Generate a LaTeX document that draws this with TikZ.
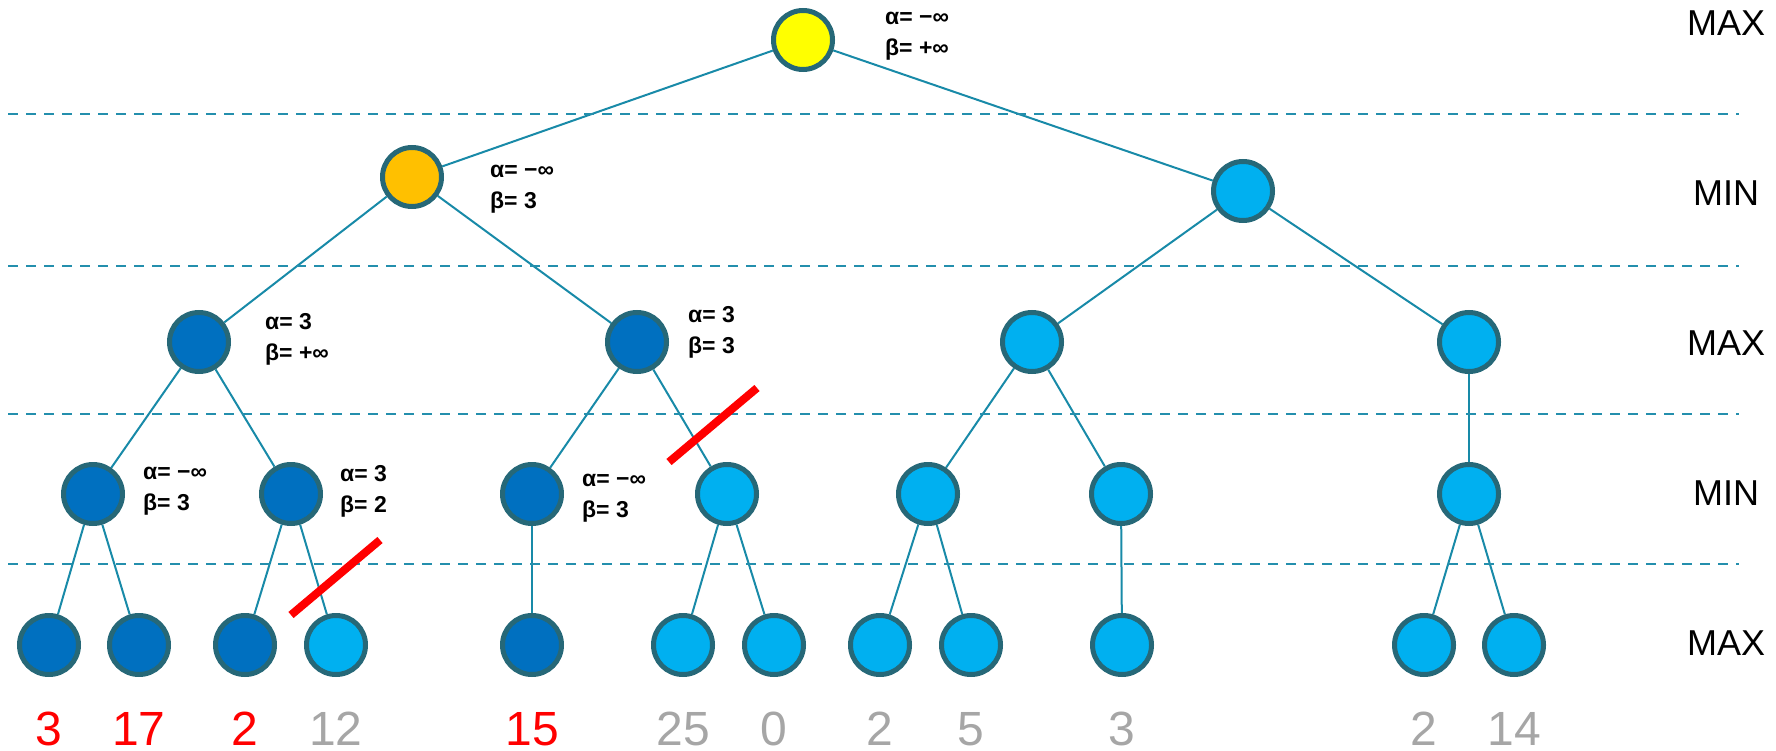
\documentclass[tikz,border=0pt]{standalone}
\usepackage{fontspec}
\setmainfont{Liberation Sans}
\definecolor{edgec}{RGB}{24,138,168}
\definecolor{dashc}{RGB}{36,143,173}
\definecolor{borderc}{RGB}{38,104,120}
\definecolor{yel}{RGB}{255,255,0}
\definecolor{org}{RGB}{255,192,0}
\definecolor{dkb}{RGB}{0,112,192}
\definecolor{ltb}{RGB}{0,176,240}
\definecolor{grayv}{RGB}{166,166,166}
\pgfdeclarelayer{bg}
\pgfsetlayers{bg,main}
\tikzset{
  tnode/.style={circle,draw=borderc,line width=5pt,minimum size=59pt,inner sep=0pt},
  ynode/.style={tnode,fill=yel},
  onode/.style={tnode,fill=org},
  dnode/.style={tnode,fill=dkb},
  lnode/.style={tnode,fill=ltb},
  tedge/.style={draw=edgec,line width=2pt},
  sep/.style={draw=dashc,line width=2.5pt,dash pattern=on 10pt off 8pt},
  cut/.style={draw=red,line width=8pt},
  ablabel/.style={anchor=west,inner sep=0pt,align=left,font=\bfseries\fontsize{23}{31}\selectfont},
  lvl/.style={inner sep=0pt,font=\fontsize{36}{40}\selectfont},
  val/.style={inner sep=0pt,font=\fontsize{48}{50}\selectfont},
}
\begin{document}
\begin{tikzpicture}[x=1pt,y=-1pt]
\useasboundingbox (0,0) rectangle (1776,751);
% separators
\foreach \yy/\nm in {114/s1,266/s2,414/s3,564/s4}{
  \coordinate (\nm a) at (8,\yy);
  \coordinate (\nm b) at (1739,\yy);
  \draw[sep] (\nm a) -- (\nm b);
}
% nodes
\node[ynode] (r) at (803,40) {};
\node[onode] (a) at (412,177) {};
\node[lnode] (b) at (1243,191) {};
\node[dnode] (c1) at (199,342) {};
\node[dnode] (c2) at (637,342) {};
\node[lnode] (c3) at (1032,342) {};
\node[lnode] (c4) at (1469,342) {};
\node[dnode] (d1) at (93,494) {};
\node[dnode] (d2) at (291,494) {};
\node[dnode] (d3) at (532,494) {};
\node[lnode] (d4) at (727,494) {};
\node[lnode] (d5) at (928,494) {};
\node[lnode] (d6) at (1121,494) {};
\node[lnode] (d7) at (1469,494) {};
\node[dnode] (e1) at (49,645) {};
\node[dnode] (e2) at (139,645) {};
\node[dnode] (e3) at (245,645) {};
\node[lnode] (e4) at (336,645) {};
\node[dnode] (e5) at (532,645) {};
\node[lnode] (e6) at (683,645) {};
\node[lnode] (e7) at (774,645) {};
\node[lnode] (e8) at (880,645) {};
\node[lnode] (e9) at (971,645) {};
\node[lnode] (e10) at (1122,645) {};
\node[lnode] (e11) at (1424,645) {};
\node[lnode] (e12) at (1514,645) {};
% edges
\begin{pgfonlayer}{bg}
\foreach \p/\c in {r/a,r/b,a/c1,a/c2,b/c3,b/c4,c1/d1,c1/d2,c2/d3,c2/d4,c3/d5,c3/d6,c4/d7,
  d1/e1,d1/e2,d2/e3,d2/e4,d3/e5,d4/e6,d4/e7,d5/e8,d5/e9,d6/e10,d7/e11,d7/e12}
  \draw[tedge] (\p) -- (\c);
\end{pgfonlayer}
% alpha-beta labels
\node[ablabel] (lr) at (885,36) {α= −∞\\β= +∞};
\node[ablabel] (la) at (490,189) {α= −∞\\β= 3};
\node[ablabel] (lc1) at (265,339) {α= 3\\β= +∞};
\node[ablabel] (lc2) at (688,332) {α= 3\\β= 3};
\node[ablabel] (ld1) at (143,491) {α= −∞\\β= 3};
\node[ablabel] (ld2) at (340,491) {α= 3\\β= 2};
\node[ablabel] (ld3) at (582,498) {α= −∞\\β= 3};
% cuts
\coordinate (k1a) at (291,615); \coordinate (k1b) at (380,540);
\coordinate (k2a) at (669,462); \coordinate (k2b) at (757,388);
\draw[cut] (k1a) -- (k1b);
\draw[cut] (k2a) -- (k2b);
% level labels
\node[lvl] (m1) at (1726,23) {MAX};
\node[lvl] (m2) at (1726,193) {MIN};
\node[lvl] (m3) at (1726,343) {MAX};
\node[lvl] (m4) at (1726,493) {MIN};
\node[lvl] (m5) at (1726,643) {MAX};
% values
\node[val,text=red] (v1) at (49,729) {3};
\node[val,text=red] (v2) at (139,729) {17};
\node[val,text=red] (v3) at (245,729) {2};
\node[val,text=grayv] (v4) at (336,729) {12};
\node[val,text=red] (v5) at (532,729) {15};
\node[val,text=grayv] (v6) at (683,729) {25};
\node[val,text=grayv] (v7) at (774,729) {0};
\node[val,text=grayv] (v8) at (880,729) {2};
\node[val,text=grayv] (v9) at (971,729) {5};
\node[val,text=grayv] (v10) at (1122,729) {3};
\node[val,text=grayv] (v11) at (1424,729) {2};
\node[val,text=grayv] (v12) at (1514,729) {14};
\end{tikzpicture}
\end{document}
